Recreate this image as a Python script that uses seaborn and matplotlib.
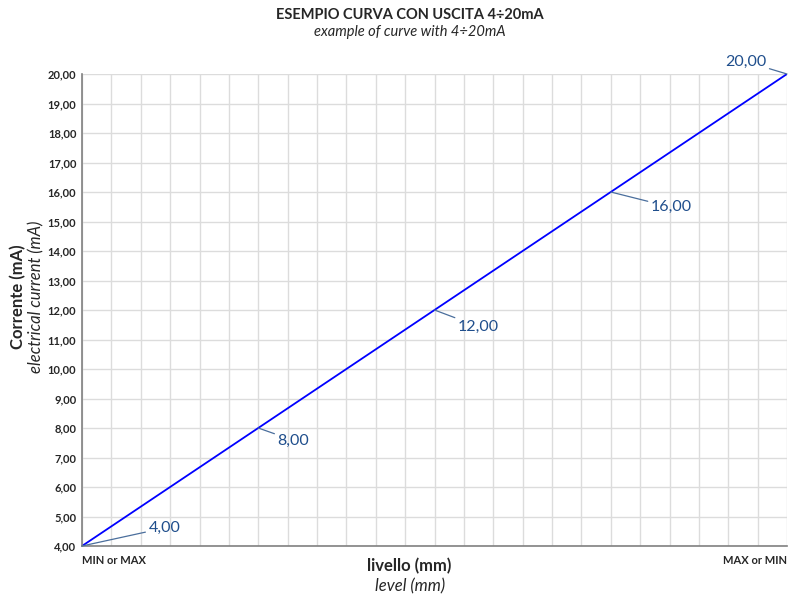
import matplotlib
matplotlib.use("Agg")
import matplotlib.pyplot as plt
import seaborn as sns
import pandas as pd

# dati della curva 4-20mA
livello = [0, 6, 12, 18, 24]
corrente = [4.0, 8.0, 12.0, 16.0, 20.0]
etichette = ["4,00", "8,00", "12,00", "16,00", "20,00"]
x_ticks_lbl = ["MIN or MAX", "MAX or MIN"]

df = pd.DataFrame({"livello": livello, "corrente": corrente})

sns.set_style("white")
plt.rcParams['font.family'] = ['Lato', 'DejaVu Sans']

fig = plt.figure(figsize=(8, 5.94), dpi=100)
ax = fig.add_axes([82 / 800, 1 - 546 / 594, (787 - 82) / 800, (546 - 74) / 594])

sns.lineplot(data=df, x="livello", y="corrente", color="#0000ff", linewidth=1.3, ax=ax)

ax.set_xlim(0, 24)
ax.set_ylim(4, 20)
ax.set_xticks(range(0, 25))
ax.set_yticks(range(4, 21))
ax.set_yticklabels([f"{v},00" for v in range(4, 21)], fontsize=8, fontweight="bold")
ax.set_xticklabels([""] * 25)
ax.grid(True, color="#dcdcdc", linewidth=1)
ax.tick_params(length=0, pad=4)
for s in ["top", "right"]:
    ax.spines[s].set_visible(False)
for s in ["left", "bottom"]:
    ax.spines[s].set_color("#808080")
    ax.spines[s].set_linewidth(1.2)

ax.text(0, -0.02, x_ticks_lbl[0], transform=ax.transAxes, ha="left", va="top",
        fontsize=8, fontweight="bold")
ax.text(1, -0.02, x_ticks_lbl[1], transform=ax.transAxes, ha="right", va="top",
        fontsize=8, fontweight="bold")

# etichette dei punti con linee guida
offsets = [(48, 13), (14, -9), (17, -12), (29, -11), (-15, 9)]
for x, y, lbl, off in zip(livello, corrente, etichette, offsets):
    ha = "right" if off[0] < 0 else "left"
    ax.annotate(lbl, xy=(x, y), xytext=off, textcoords="offset points",
                ha=ha, va="center", fontsize=11.5, color="#1f4e8c",
                arrowprops=dict(arrowstyle="-", color="#4a6e9c", linewidth=0.9,
                                shrinkA=0, shrinkB=0),
                annotation_clip=False)

fig.text(0.512, 0.975, "ESEMPIO CURVA CON USCITA 4÷20mA", ha="center", va="center",
         fontsize=10.5, fontweight="bold")
fig.text(0.512, 0.946, "example of curve with 4÷20mA", ha="center", va="center",
         fontsize=10.5, style="italic")

ax.set_xlabel("")
ax.set_ylabel("")
fig.text(0.512, 1 - 566 / 594, "livello (mm)", ha="center", va="center",
         fontsize=12, fontweight="bold")
fig.text(0.512, 1 - 586 / 594, "level (mm)", ha="center", va="center",
         fontsize=12, style="italic")
fig.text(18 / 800, 0.5, "Corrente (mA)", ha="center", va="center", rotation=90,
         fontsize=12, fontweight="bold")
fig.text(36 / 800, 0.5, "electrical current (mA)", ha="center", va="center", rotation=90,
         fontsize=12, style="italic")

fig.savefig("out.png", dpi=100)
